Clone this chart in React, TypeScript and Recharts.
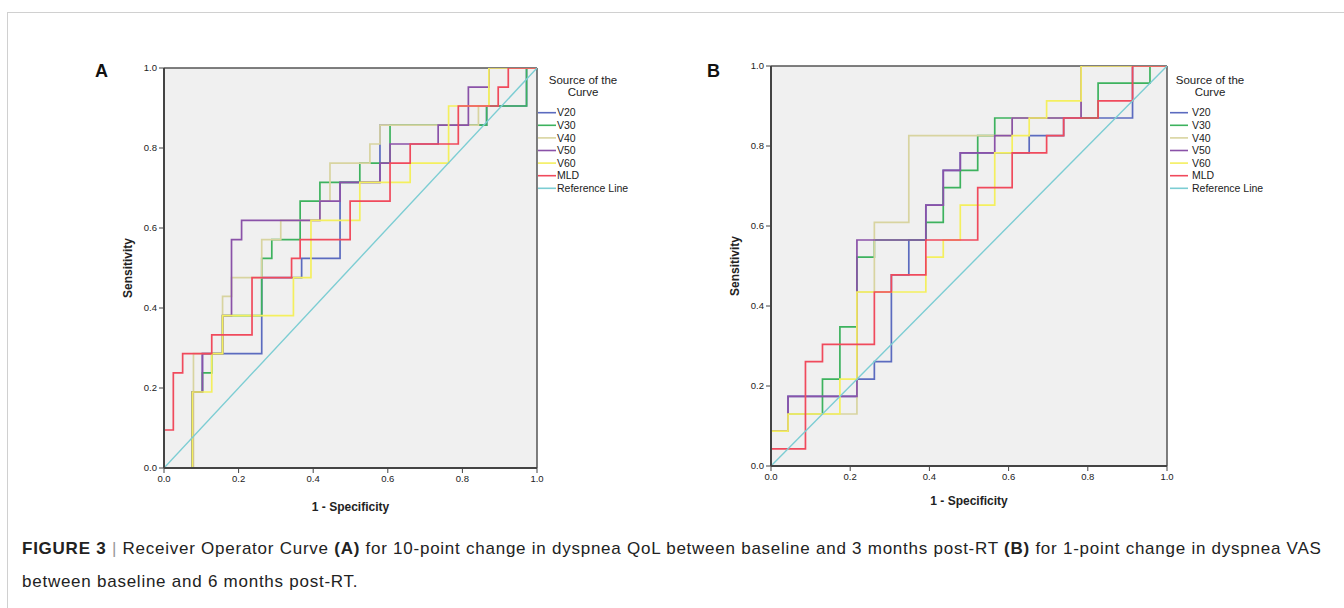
import React from 'react'
import { LineChart, Line, XAxis, YAxis, CartesianGrid, ReferenceLine, Legend } from 'recharts'

// shared axis ticks
const axisTicks = [0, 0.2, 0.4, 0.6, 0.8, 1]
const seriesNames = ['V20', 'V30', 'V40', 'V50', 'V60', 'MLD']
const seriesColors = ['#5b6bbf', '#3db25e', '#d8d4a0', '#8a52a8', '#f4ef5e', '#f04a5c']
const refName = 'Reference Line'
const refColor = '#7ccdd3'
const refFpr = [0, 1]
const refTpr = [0, 1]

// panel A: 10-point change in dyspnea QoL, baseline -> 3 months
const aV20Fpr = [0, 0.076, 0.103, 0.262, 0.369, 0.472, 0.579, 0.865, 0.972, 1]
const aV20Tpr = [0, 0.19, 0.286, 0.476, 0.524, 0.714, 0.857, 0.905, 1, 1]
const aV30Fpr = [0, 0.076, 0.103, 0.128, 0.157, 0.262, 0.289, 0.365, 0.418, 0.525, 0.606, 0.865, 0.972, 1]
const aV30Tpr = [0, 0.19, 0.238, 0.286, 0.381, 0.524, 0.571, 0.667, 0.714, 0.762, 0.857, 0.905, 1, 1]
const aV40Fpr = [0, 0.079, 0.157, 0.181, 0.262, 0.313, 0.418, 0.445, 0.552, 0.579, 0.843, 0.871, 1]
const aV40Tpr = [0, 0.286, 0.429, 0.476, 0.571, 0.619, 0.667, 0.762, 0.81, 0.857, 0.905, 1, 1]
const aV50Fpr = [0, 0.076, 0.103, 0.157, 0.181, 0.208, 0.418, 0.472, 0.579, 0.606, 0.735, 0.816, 0.871, 1]
const aV50Tpr = [0, 0.19, 0.286, 0.381, 0.571, 0.619, 0.667, 0.714, 0.762, 0.81, 0.857, 0.952, 1, 1]
const aV60Fpr = [0, 0.076, 0.128, 0.157, 0.347, 0.394, 0.525, 0.66, 0.763, 0.871, 1]
const aV60Tpr = [0, 0.19, 0.286, 0.381, 0.476, 0.619, 0.714, 0.762, 0.905, 1, 1]
const aMldFpr = [0, 0, 0.025, 0.05, 0.128, 0.236, 0.342, 0.365, 0.499, 0.606, 0.66, 0.789, 0.896, 0.923, 1]
const aMldTpr = [0, 0.095, 0.238, 0.286, 0.333, 0.476, 0.524, 0.571, 0.667, 0.762, 0.81, 0.905, 0.952, 1, 1]

// panel B: 1-point change in dyspnea VAS, baseline -> 6 months
const bV20Fpr = [0, 0, 0.043, 0.217, 0.261, 0.304, 0.348, 0.391, 0.435, 0.478, 0.652, 0.739, 0.913, 1]
const bV20Tpr = [0, 0.087, 0.174, 0.217, 0.261, 0.478, 0.565, 0.652, 0.739, 0.783, 0.826, 0.87, 1, 1]
const bV30Fpr = [0, 0, 0.043, 0.13, 0.174, 0.217, 0.261, 0.391, 0.435, 0.478, 0.522, 0.565, 0.826, 0.957, 1]
const bV30Tpr = [0, 0.087, 0.13, 0.217, 0.348, 0.522, 0.565, 0.609, 0.696, 0.739, 0.826, 0.87, 0.957, 1, 1]
const bV40Fpr = [0, 0, 0.043, 0.217, 0.261, 0.348, 0.609, 0.783, 1]
const bV40Tpr = [0, 0.087, 0.13, 0.435, 0.609, 0.826, 0.87, 1, 1]
const bV50Fpr = [0, 0, 0.043, 0.217, 0.391, 0.435, 0.478, 0.565, 0.609, 0.783, 1]
const bV50Tpr = [0, 0.087, 0.174, 0.565, 0.652, 0.739, 0.783, 0.826, 0.87, 1, 1]
const bV60Fpr = [0, 0, 0.043, 0.174, 0.217, 0.391, 0.435, 0.478, 0.565, 0.609, 0.652, 0.696, 0.783, 1]
const bV60Tpr = [0, 0.087, 0.13, 0.217, 0.435, 0.522, 0.565, 0.652, 0.783, 0.826, 0.87, 0.913, 1, 1]
const bMldFpr = [0, 0, 0.087, 0.13, 0.261, 0.304, 0.391, 0.522, 0.609, 0.696, 0.739, 0.826, 0.913, 1]
const bMldTpr = [0, 0.043, 0.261, 0.304, 0.435, 0.478, 0.565, 0.696, 0.783, 0.826, 0.87, 0.913, 1, 1]

type Pt = { x: number; y: number }
const toPts = (fpr: number[], tpr: number[]): Pt[] => fpr.map((x, i) => ({ x, y: tpr[i] }))

const panelA = [
  toPts(aV20Fpr, aV20Tpr),
  toPts(aV30Fpr, aV30Tpr),
  toPts(aV40Fpr, aV40Tpr),
  toPts(aV50Fpr, aV50Tpr),
  toPts(aV60Fpr, aV60Tpr),
  toPts(aMldFpr, aMldTpr),
]
const panelB = [
  toPts(bV20Fpr, bV20Tpr),
  toPts(bV30Fpr, bV30Tpr),
  toPts(bV40Fpr, bV40Tpr),
  toPts(bV50Fpr, bV50Tpr),
  toPts(bV60Fpr, bV60Tpr),
  toPts(bMldFpr, bMldTpr),
]
const refPts = toPts(refFpr, refTpr)

const FONT = 'Arial, "Liberation Sans", Helvetica, sans-serif'
const fmt = (v: number) => v.toFixed(1)

const RocLegend = ({ titleX, labelX }: { titleX: number; labelX: number }) => {
  const items = [...seriesNames.map((n, i) => ({ n, c: seriesColors[i] })), { n: refName, c: refColor }]
  return (
    <svg width={130} height={130} style={{ display: 'block', overflow: 'visible', fontFamily: FONT }}>
      <text x={titleX} y={16} textAnchor='middle' fontSize={11.5} fill='#222'>
        Source of the
      </text>
      <text x={titleX} y={28} textAnchor='middle' fontSize={11.5} fill='#222'>
        Curve
      </text>
      {items.map((it, i) => {
        const y = 44.7 + i * 12.6
        return (
          <g key={it.n}>
            <line x1={0} x2={18} y1={y} y2={y} stroke={it.c} strokeWidth={1.6} />
            <text x={labelX} y={y + 3.7} fontSize={10.5} fill='#222'>
              {it.n}
            </text>
          </g>
        )
      })}
    </svg>
  )
}

type PanelProps = {
  left: number
  top: number
  width: number
  height: number
  marginTop: number
  xAxisH: number
  data: Pt[][]
  legendLeft: number
  legendTop: number
  titleX: number
  labelX: number
}

const RocPanel = (p: PanelProps) => (
  <div style={{ position: 'absolute', left: p.left, top: p.top }}>
    <LineChart
      width={p.width}
      height={p.height}
      margin={{ top: p.marginTop, right: 130, bottom: 0, left: 0 }}
    >
      <CartesianGrid horizontal={false} vertical={false} fill='#f0f0f0' />
      <XAxis
        type='number'
        dataKey='x'
        domain={[0, 1]}
        ticks={axisTicks}
        tickFormatter={fmt}
        height={p.xAxisH}
        tickSize={5}
        tick={{ fontSize: 9.5, fill: '#222', fontFamily: FONT }}
        tickLine={{ stroke: '#444' }}
        axisLine={{ stroke: '#444', strokeWidth: 2 }}
        allowDataOverflow
        label={{
          value: '1 - Specificity',
          position: 'center',
          style: { fontSize: 12, fontWeight: 'bold', fill: '#222', fontFamily: FONT },
        }}
      />
      <YAxis
        type='number'
        dataKey='y'
        domain={[0, 1]}
        ticks={axisTicks}
        tickFormatter={fmt}
        width={72}
        tickSize={5}
        tick={{ fontSize: 9.5, fill: '#222', fontFamily: FONT }}
        tickLine={{ stroke: '#444' }}
        axisLine={{ stroke: '#444', strokeWidth: 2 }}
        allowDataOverflow
        label={{
          value: 'Sensitivity',
          angle: -90,
          position: 'center',
          style: { fontSize: 12, fontWeight: 'bold', fill: '#222', fontFamily: FONT },
        }}
      />
      <ReferenceLine y={1} stroke='#555' strokeWidth={1.5} />
      <ReferenceLine x={1} stroke='#555' strokeWidth={1.5} />
      {p.data.map((pts, i) => (
        <Line
          key={seriesNames[i]}
          data={pts}
          dataKey='y'
          name={seriesNames[i]}
          type='stepAfter'
          stroke={seriesColors[i]}
          strokeWidth={1.7}
          dot={false}
          activeDot={false}
          isAnimationActive={false}
        />
      ))}
      <Line
        data={refPts}
        dataKey='y'
        name={refName}
        type='linear'
        stroke={refColor}
        strokeWidth={1.4}
        dot={false}
        activeDot={false}
        isAnimationActive={false}
      />
      <Legend
        layout='vertical'
        align='center'
        verticalAlign='middle'
        wrapperStyle={{ left: p.legendLeft, top: p.legendTop, width: 130, height: 130 }}
        content={() => <RocLegend titleX={p.titleX} labelX={p.labelX} />}
      />
    </LineChart>
  </div>
)

const panelLabel: React.CSSProperties = {
  position: 'absolute',
  fontFamily: FONT,
  fontWeight: 'bold',
  fontSize: 18,
  color: '#111',
}

export default function App() {
  return (
    <div
      style={{
        position: 'absolute',
        left: 0,
        top: 0,
        width: 1344,
        height: 608,
        background: '#fff',
        fontFamily: FONT,
        overflow: 'hidden',
      }}
    >
      <div
        style={{
          position: 'absolute',
          left: 7,
          top: 12,
          width: 1400,
          height: 700,
          border: '1px solid #d0d0d0',
        }}
      />
      <div style={{ ...panelLabel, left: 95, top: 61 }}>A</div>
      <div style={{ ...panelLabel, left: 707, top: 61 }}>B</div>
      <RocPanel
        left={92}
        top={40}
        width={575}
        height={506}
        marginTop={28}
        xAxisH={78}
        data={panelA}
        legendLeft={446}
        legendTop={28}
        titleX={45}
        labelX={19}
      />
      <RocPanel
        left={699}
        top={40}
        width={598}
        height={496}
        marginTop={26}
        xAxisH={70}
        data={panelB}
        legendLeft={471}
        legendTop={28}
        titleX={40}
        labelX={22}
      />
      <div
        style={{
          position: 'absolute',
          left: 22,
          top: 532,
          width: 1320,
          fontSize: 17,
          letterSpacing: 0.75,
          lineHeight: '33px',
          color: '#222',
          whiteSpace: 'nowrap',
        }}
      >
        <b>FIGURE 3</b> <span style={{ color: '#999' }}>|</span> Receiver Operator Curve <b>(A)</b> for 10-point
        change in dyspnea QoL between baseline and 3 months post-RT <b>(B)</b> for 1-point change in dyspnea VAS
        <br />
        between baseline and 6 months post-RT.
      </div>
    </div>
  )
}
